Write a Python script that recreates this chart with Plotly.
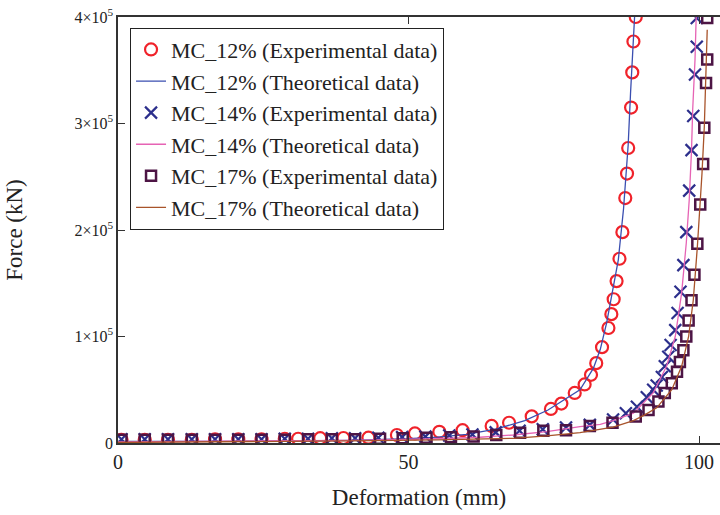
import plotly.graph_objects as go

# ---------------- data (x in mm, y in units of 1e5 kN) ----------------
mc12_exp_x = [0.6, 4.6, 8.6, 12.7, 16.7, 20.7, 24.7, 28.7, 31.0, 34.8, 38.8, 43.1, 48.0, 51.1,
              55.3, 59.3, 64.3, 67.3, 71.2, 74.5, 76.3, 78.6, 80.3, 81.4, 82.3, 83.3, 84.4,
              84.9, 85.3, 85.8, 86.3, 86.8, 87.3, 87.6, 87.8, 88.3, 88.5, 88.7, 89.1]
mc12_exp_y = [0.03, 0.03, 0.03, 0.03, 0.035, 0.035, 0.035, 0.04, 0.04, 0.045, 0.047, 0.05, 0.075,
              0.09, 0.105, 0.12, 0.16, 0.19, 0.25, 0.32, 0.37, 0.47, 0.55, 0.64, 0.75, 0.90, 1.08,
              1.21, 1.35, 1.52, 1.73, 1.98, 2.30, 2.53, 2.77, 3.15, 3.48, 3.77, 4.00]

mc12_th_x = [0, 20, 40, 50, 55, 60, 65, 70, 74, 77, 79.5, 81.8, 83.0, 84.1, 85.2, 86.1, 87.0,
             87.8, 88.2, 88.7, 88.9]
mc12_th_y = [0.015, 0.015, 0.025, 0.04, 0.055, 0.08, 0.13, 0.21, 0.31, 0.41, 0.50, 0.70, 0.88,
             1.13, 1.45, 1.72, 2.20, 2.80, 3.28, 3.75, 4.00]

mc14_exp_x = [0.6, 4.6, 8.6, 12.7, 16.7, 20.7, 24.7, 28.7, 32.7, 36.8, 40.8, 44.8, 48.9, 52.9,
              57.0, 61.0, 65.0, 69.1, 73.1, 77.1, 81.2, 85.2, 87.4, 89.3, 91.0, 92.1, 92.7, 93.6,
              94.1, 94.7, 95.1, 95.9, 96.3, 96.8, 97.3, 97.8, 98.3, 98.7, 99.0, 99.3, 99.6, 99.6]
mc14_exp_y = [0.035, 0.035, 0.035, 0.035, 0.035, 0.035, 0.035, 0.04, 0.04, 0.045, 0.045, 0.05,
              0.055, 0.06, 0.07, 0.08, 0.10, 0.115, 0.13, 0.145, 0.17, 0.22, 0.28, 0.34, 0.43,
              0.50, 0.54, 0.62, 0.72, 0.81, 0.92, 1.06, 1.22, 1.42, 1.67, 1.98, 2.37, 2.75, 3.07,
              3.46, 3.72, 3.99]

mc14_th_x = [0, 20, 40, 55, 62.3, 68, 73.8, 79.5, 83.0, 85.2, 88.7, 92.1, 94.4, 95.9, 97.0,
             97.8, 98.3, 98.7, 98.9, 99.3, 99.5]
mc14_th_y = [0.01, 0.015, 0.025, 0.04, 0.054, 0.075, 0.106, 0.153, 0.175, 0.21, 0.28, 0.47, 0.72,
             1.00, 1.41, 1.88, 2.28, 2.75, 3.13, 3.60, 4.00]

mc17_exp_x = [0.6, 4.6, 8.6, 12.7, 16.7, 20.7, 24.7, 28.7, 32.7, 36.8, 40.8, 45.1, 49.0, 53.1,
              57.3, 61.2, 65.1, 69.2, 73.2, 77.1, 81.2, 85.1, 89.1, 91.3, 93.0, 94.1, 95.3, 96.2,
              96.7, 97.3, 97.8, 98.2, 98.7, 99.2, 99.7, 100.2, 100.7, 100.9, 101.2, 101.4, 101.4]
mc17_exp_y = [0.03, 0.03, 0.03, 0.03, 0.03, 0.03, 0.03, 0.03, 0.035, 0.035, 0.035, 0.04, 0.045,
              0.05, 0.055, 0.06, 0.075, 0.097, 0.115, 0.12, 0.16, 0.19, 0.25, 0.31, 0.39, 0.47,
              0.56, 0.67, 0.76, 0.87, 1.00, 1.15, 1.34, 1.58, 1.87, 2.24, 2.62, 2.96, 3.38, 3.60,
              3.99]

mc17_th_x = [0, 20, 40, 55, 62.3, 68, 73.8, 79.5, 85.2, 88.7, 90.5, 92.7, 95.3, 97.0, 98.2,
             99.0, 99.7, 100.2, 100.5, 100.9, 101.2, 101.4]
mc17_th_y = [0.005, 0.01, 0.02, 0.03, 0.035, 0.044, 0.066, 0.097, 0.15, 0.21, 0.26, 0.33, 0.50,
             0.72, 1.00, 1.34, 1.84, 2.22, 2.53, 2.97, 3.44, 3.88]

y_ticks = [0, 1, 2, 3, 4]
y_tick_text = ["0", "1×10<sup>5</sup>", "2×10<sup>5</sup>", "3×10<sup>5</sup>", "4×10<sup>5</sup>"]
x_ticks = [0, 50, 100]

SCALE = 1e5

def sc(v):
    return [a * SCALE for a in v]

FONT = "Liberation Serif, Times New Roman, serif"

fig = go.Figure()
fig.add_trace(go.Scatter(x=mc12_exp_x, y=sc(mc12_exp_y), mode="markers",
                         name="MC_12% (Experimental data)",
                         marker=dict(symbol="circle-open", size=12, color="#f0222a",
                                     line=dict(width=2.2, color="#f0222a"))))
fig.add_trace(go.Scatter(x=mc12_th_x, y=sc(mc12_th_y), mode="lines",
                         name="MC_12% (Theoretical data)",
                         line=dict(color="#3a4eb0", width=1.3)))
fig.add_trace(go.Scatter(x=mc14_exp_x, y=sc(mc14_exp_y), mode="markers",
                         name="MC_14% (Experimental data)",
                         marker=dict(symbol="x-thin-open", size=12, color="#2c2f8c",
                                     line=dict(width=2.2, color="#2c2f8c"))))
fig.add_trace(go.Scatter(x=mc14_th_x, y=sc(mc14_th_y), mode="lines",
                         name="MC_14% (Theoretical data)",
                         line=dict(color="#e663b4", width=1.3)))
fig.add_trace(go.Scatter(x=mc17_exp_x, y=sc(mc17_exp_y), mode="markers",
                         name="MC_17% (Experimental data)",
                         marker=dict(symbol="square-open", size=10, color="#4d1545",
                                     line=dict(width=2.5, color="#4d1545"))))
fig.add_trace(go.Scatter(x=mc17_th_x, y=sc(mc17_th_y), mode="lines",
                         name="MC_17% (Theoretical data)",
                         line=dict(color="#a8532a", width=1.3)))

fig.update_layout(
    width=720, height=515,
    margin=dict(l=118, r=0, t=17, b=72, autoexpand=False),
    paper_bgcolor="white", plot_bgcolor="white",
    font=dict(family=FONT, color="#222", size=18),
    showlegend=True,
    legend=dict(x=0.02, y=0.975, xanchor="left", yanchor="top",
                bgcolor="white", bordercolor="#222", borderwidth=1,
                font=dict(family=FONT, size=22, color="#222"),
                itemwidth=30, tracegroupgap=0),
    xaxis=dict(range=[0, 103.6], tickvals=x_ticks, ticktext=[str(v) for v in x_ticks],
               automargin=False, ticklabeloverflow="allow",
               showgrid=False, zeroline=False, showline=True, linecolor="#333", linewidth=1.5,
               mirror="ticks", ticks="inside", ticklen=7, tickcolor="#333",
               tickfont=dict(family=FONT, size=20, color="#222"),
               title=dict(text="Deformation (mm)", font=dict(family=FONT, size=23, color="#222"),
                          standoff=17)),
    yaxis=dict(range=[0, 4 * SCALE], tickvals=sc(y_ticks), ticktext=y_tick_text,
               automargin=False, ticklabeloverflow="allow",
               showgrid=False, zeroline=False, showline=True, linecolor="#333", linewidth=1.5,
               mirror=False, ticks="inside", ticklen=7, tickcolor="#333",
               tickfont=dict(family=FONT, size=16, color="#222"),
               title=dict(text="Force (kN)", font=dict(family=FONT, size=23, color="#222"),
                          standoff=45)),
)

# remove the browser's default 8px body margin so the figure fills the window
fig.write_html("out.html", config={"displayModeBar": False},
               post_script="document.body.style.margin='0';document.body.style.overflow='hidden';")
